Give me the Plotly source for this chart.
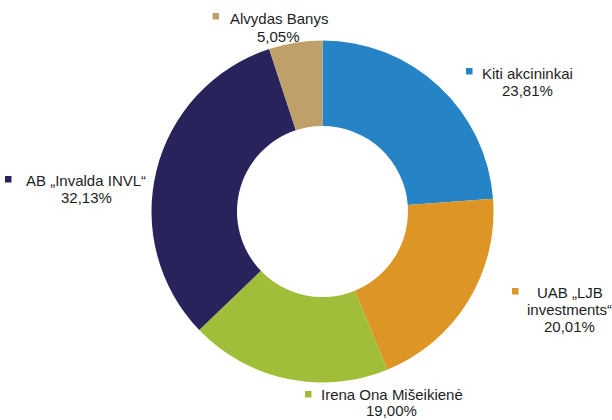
import plotly.graph_objects as go

labels = ["Kiti akcininkai", "UAB „LJB investments“", "Irena Ona Mišeikienė",
          "AB „Invalda INVL“", "Alvydas Banys"]
label_lines = [["Kiti akcininkai"], ["UAB „LJB", "investments“"], ["Irena Ona Mišeikienė"],
               ["AB „Invalda INVL“"], ["Alvydas Banys"]]
values = [23.81, 20.01, 19.00, 32.13, 5.05]
colors = ["#2684C6", "#DD9625", "#A1BE3A", "#29235C", "#BFA06A"]

W, H = 612, 420
# label layout: (center x of text, y of first line center, key square x0, key y0, line height)
label_pos = [
    (527.5, 73, 466, 68, 17),
    (569.5, 292, 512, 288, 17),
    (392, 394, 305, 391, 16),
    (86, 180, 5, 176, 17),
    (278.5, 19, 212.5, 13, 17),
]
key = 6.5

cx, cy, R = 322.5, 211.5, 171

fig = go.Figure(go.Pie(
    labels=labels, values=values, sort=False, direction="clockwise", rotation=0,
    hole=0.5, marker=dict(colors=colors, line=dict(width=0)),
    textinfo="none", hoverinfo="label+percent", showlegend=False,
    domain=dict(x=[(cx - R) / W, (cx + R) / W], y=[1 - (cy + R) / H, 1 - (cy - R) / H]),
))

font = dict(family="Arial, Liberation Sans, sans-serif", size=15, color="#1e1e1e")
annotations = []
shapes = []
for lines, v, c, (tx, ty, kx, ky, lh) in zip(label_lines, values, colors, label_pos):
    all_lines = lines + [f"{v:.2f}".replace(".", ",") + "%"]
    for i, t in enumerate(all_lines):
        annotations.append(dict(
            x=tx / W, y=1 - (ty + i * lh) / H, xref="paper", yref="paper",
            text=t, showarrow=False, xanchor="center", yanchor="middle", font=font))
    shapes.append(dict(type="rect", xref="paper", yref="paper",
                       x0=kx / W, x1=(kx + key) / W, y0=1 - (ky + key) / H, y1=1 - ky / H,
                       fillcolor=c, line=dict(width=0)))

fig.update_layout(
    width=W, height=H, margin=dict(l=0, r=0, t=0, b=0),
    paper_bgcolor="white", plot_bgcolor="white",
    annotations=annotations, shapes=shapes,
)
fig.write_html("out.html", config={"displayModeBar": False},
               post_script="document.body.style.margin='0';document.body.style.overflow='hidden';")
